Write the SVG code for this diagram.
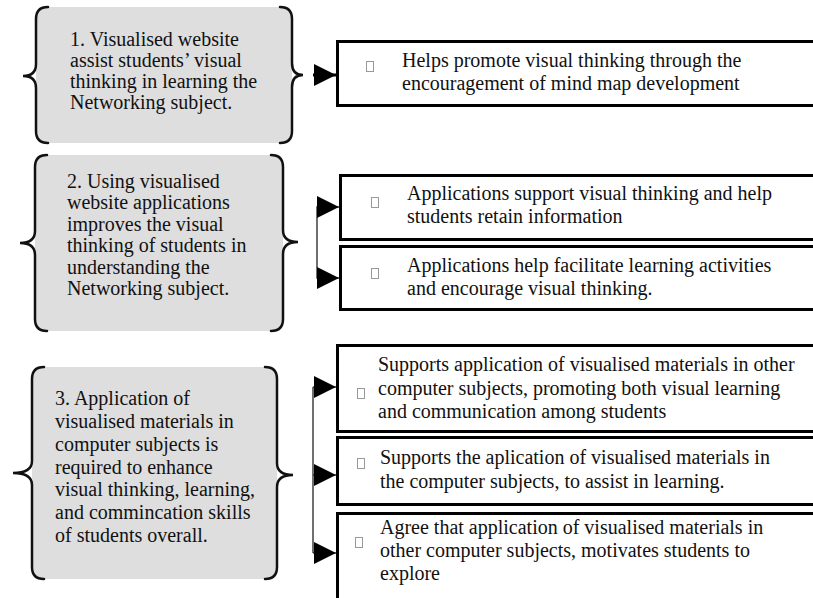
<svg xmlns="http://www.w3.org/2000/svg" width="813" height="598" viewBox="0 0 813 598">
<style>
  .txt { font-family: "Liberation Serif", "Times New Roman", serif; font-size: 20px; fill: #111; }
  .gray { fill: #dedede; stroke: none; }
  .brace { fill: none; stroke: #111; stroke-width: 2.5; stroke-linecap: round; }
  .box { fill: #fff; stroke: #000; stroke-width: 3; }
  .bul { fill: #fff; stroke: #999; stroke-width: 1; }
  .conn { fill: none; stroke: #222; stroke-width: 1.3; }
</style>
<defs>
  <marker id="ah" viewBox="0 0 22 22" refX="22" refY="11" markerWidth="22" markerHeight="22" markerUnits="userSpaceOnUse" orient="auto">
    <path d="M0,0 L22,11 L0,22 Z" fill="#000"/>
  </marker>
</defs>
<rect width="813" height="598" fill="#fff"/>

<!-- Left node 1 -->
<g id="node1">
  <rect class="gray" x="36" y="7" width="256" height="136" rx="12"/>
  <path class="brace" d="M48,7 Q36,7 36,19 L36,64 Q36,76 23,76 Q36,76 36,88 L36,131 Q36,143 48,143"/>
  <path class="brace" d="M280,7 Q292,7 292,19 L292,63 Q292,75 303,75 Q292,75 292,87 L292,131 Q292,143 280,143"/>
  <text class="txt" x="70" y="46">1. Visualised website</text>
  <text class="txt" x="70" y="67">assist students’ visual</text>
  <text class="txt" x="70" y="88">thinking in learning the</text>
  <text class="txt" x="70" y="109">Networking subject.</text>
</g>

<!-- Left node 2 -->
<g id="node2">
  <rect class="gray" x="35" y="155" width="248" height="176" rx="12"/>
  <path class="brace" d="M47,155 Q35,155 35,167 L35,231 Q35,243 20,243 Q35,243 35,255 L35,319 Q35,331 47,331"/>
  <path class="brace" d="M271,155 Q283,155 283,167 L283,230 Q283,242 298,242 Q283,242 283,254 L283,319 Q283,331 271,331"/>
  <text class="txt" x="67" y="188">2. Using visualised</text>
  <text class="txt" x="67" y="209">website applications</text>
  <text class="txt" x="67" y="231">improves the visual</text>
  <text class="txt" x="67" y="252">thinking of students in</text>
  <text class="txt" x="67" y="274">understanding the</text>
  <text class="txt" x="67" y="295">Networking subject.</text>
</g>

<!-- Left node 3 -->
<g id="node3">
  <rect class="gray" x="32" y="367" width="245" height="212" rx="12"/>
  <path class="brace" d="M44,367 Q32,367 32,379 L32,461 Q32,473 13,473 Q32,473 32,485 L32,567 Q32,579 44,579"/>
  <path class="brace" d="M265,367 Q277,367 277,379 L277,463 Q277,475 293,475 Q277,475 277,487 L277,567 Q277,579 265,579"/>
  <text class="txt" x="55" y="405">3. Application of</text>
  <text class="txt" x="55" y="428">visualised materials in</text>
  <text class="txt" x="55" y="451">computer subjects is</text>
  <text class="txt" x="55" y="474">required to enhance</text>
  <text class="txt" x="55" y="496">visual thinking, learning,</text>
  <text class="txt" x="55" y="519">and commincation skills</text>
  <text class="txt" x="55" y="542">of students overall.</text>
</g>

<!-- Right nodes -->
<g id="r1">
  <rect class="box" x="337.5" y="41.5" width="490" height="64"/>
  <rect class="bul" x="366.5" y="61.5" width="7" height="10"/>
  <text class="txt" x="402" y="67">Helps promote visual thinking through the</text>
  <text class="txt" x="402" y="90">encouragement of mind map development</text>
</g>
<g id="r2a">
  <rect class="box" x="340.5" y="175.5" width="490" height="64"/>
  <rect class="bul" x="371.5" y="197.5" width="7" height="10"/>
  <text class="txt" x="407" y="200">Applications support visual thinking and help</text>
  <text class="txt" x="407" y="223">students retain information</text>
</g>
<g id="r2b">
  <rect class="box" x="340.5" y="246.5" width="490" height="63"/>
  <rect class="bul" x="371.5" y="268.5" width="7" height="10"/>
  <text class="txt" x="407" y="272">Applications help facilitate learning activities</text>
  <text class="txt" x="407" y="295">and encourage visual thinking.</text>
</g>
<g id="r3a">
  <rect class="box" x="337.5" y="345.5" width="490" height="86"/>
  <rect class="bul" x="357.5" y="388.5" width="7" height="10"/>
  <text class="txt" x="378" y="371">Supports application of visualised materials in other</text>
  <text class="txt" x="378" y="395">computer subjects, promoting both visual learning</text>
  <text class="txt" x="378" y="418">and communication among students</text>
</g>
<g id="r3b">
  <rect class="box" x="337.5" y="437.5" width="490" height="67"/>
  <rect class="bul" x="357.5" y="458.5" width="7" height="10"/>
  <text class="txt" x="380" y="464">Supports the aplication of visualised materials in</text>
  <text class="txt" x="380" y="488">the computer subjects, to assist in learning.</text>
</g>
<g id="r3c">
  <rect class="box" x="337.5" y="513.5" width="490" height="100"/>
  <rect class="bul" x="355.5" y="537.5" width="7" height="10"/>
  <text class="txt" x="380" y="534">Agree that application of visualised materials in</text>
  <text class="txt" x="380" y="557">other computer subjects, motivates students to</text>
  <text class="txt" x="380" y="580">explore</text>
</g>

<!-- Connectors -->
<g id="connectors">
  <line x1="313" y1="75" x2="336" y2="75" stroke="#000" stroke-width="3" marker-end="url(#ah)"/>
  <path class="conn" d="M320,207 L317,207 L317,278 L320,278"/>
  <line class="conn" x1="317" y1="207" x2="339" y2="207" marker-end="url(#ah)"/>
  <line class="conn" x1="317" y1="278" x2="339" y2="278" marker-end="url(#ah)"/>
  <path class="conn" d="M313,387 L313,553"/>
  <line class="conn" x1="313" y1="387" x2="336" y2="387" marker-end="url(#ah)"/>
  <line class="conn" x1="313" y1="475" x2="336" y2="475" marker-end="url(#ah)"/>
  <line class="conn" x1="313" y1="553" x2="336" y2="553" marker-end="url(#ah)"/>
</g>
</svg>
